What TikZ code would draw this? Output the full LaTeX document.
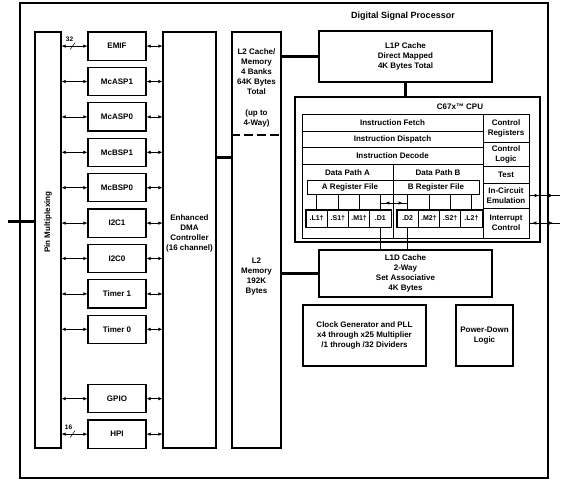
\documentclass[tikz,border=0pt]{standalone}
\usepackage{fontspec}
\setmainfont{Liberation Sans}
\usetikzlibrary{positioning,arrows.meta,calc}
\newcommand{\blkfont}{\bfseries\fontsize{8}{10}\selectfont}
\newcommand{\ttlfont}{\bfseries\fontsize{9}{11}\selectfont}
\newcommand{\unitfont}{\bfseries\fontsize{7}{9}\selectfont}
\newcommand{\smlfont}{\bfseries\fontsize{6.5}{8}\selectfont}
\tikzset{
  blk/.style  ={draw, line width=1.2pt, align=center, font=\blkfont, inner sep=1pt},
  per/.style  ={blk, minimum width=58pt, minimum height=28.2pt},
  cell/.style ={draw, line width=0.5pt, align=center, font=\blkfont, inner sep=0pt},
  unit/.style ={draw, line width=0.9pt, font=\unitfont, inner sep=0pt,
                minimum width=21.25pt, minimum height=17pt},
  txt/.style  ={align=center, font=\blkfont, inner sep=0pt},
  bus/.style  ={line width=3pt},
  wire/.style ={line width=0.5pt},
  sig/.style  ={{Latex[length=4pt,width=3.4pt]}-{Latex[length=4pt,width=3.4pt]}, line width=0.5pt},
}

\begin{document}
\begin{tikzpicture}[x=1pt,y=-1pt]
\useasboundingbox (0,0) rectangle (563,484);

% device outline
\node[draw, line width=1.4pt, minimum width=528pt, minimum height=475pt] (dsp) at (284,240.5) {};
\node[font=\ttlfont] (ttl) at (403,16) {Digital Signal Processor};

% left column
\node[blk, minimum width=26pt, minimum height=416pt] (pmx) at (48,240) {};
\node[txt, rotate=90] (pmxlbl) at (48,222) {Pin Multiplexing};

\node[per] (emif) at (117,46.1) {EMIF};
\node[per, below=6pt of emif] (asp1) {McASP1};
\node[per, below=6pt of asp1] (asp0) {McASP0};
\node[per, below=6pt of asp0] (bsp1) {McBSP1};
\node[per, below=6pt of bsp1] (bsp0) {McBSP0};
\node[per, below=6pt of bsp0] (iic1) {I2C1};
\node[per, below=6pt of iic1] (iic0) {I2C0};
\node[per, below=6pt of iic0] (tim1) {Timer 1};
\node[per, below=6pt of tim1] (tim0) {Timer 0};
\node[per, below=40pt of tim0] (gpio) {GPIO};
\node[per, below=6pt of gpio] (hpi) {HPI};

\node[blk, minimum width=53pt, minimum height=416pt] (dma) at (189.5,240) {};
\node[txt] (dmalbl) at (189.5,233) {Enhanced\\DMA\\Controller\\(16 channel)};

% L2
\node[blk, minimum width=49pt, minimum height=416pt] (l2) at (256.5,240) {};
\coordinate (l2cut) at (256.5,135);
\draw[line width=1.2pt, dash pattern=on 9pt off 4pt] (l2cut -| l2.west) -- (l2cut -| l2.east);
\node[txt] (l2top) at (256.5,88) {L2 Cache/\\Memory\\4 Banks\\64K Bytes\\Total\\[11pt](up to\\4-Way)};
\node[txt] (l2bot) at (256.5,277) {L2\\Memory\\192K\\Bytes};

% caches and CPU
\node[blk, minimum width=173pt, minimum height=51pt] (l1p) at (405.5,56.5) {L1P Cache\\Direct Mapped\\4K Bytes Total};
\node[draw, line width=1.6pt, minimum width=245pt, minimum height=145pt] (cpu) at (417.5,169.5) {};
\node[txt] (cpulbl) at (460,107) {C67x™ CPU};

\node[cell, minimum width=181pt, minimum height=17pt] (fetch) at (392.5,122.5) {Instruction Fetch};
\node[cell, minimum width=181pt, minimum height=16pt] (disp) at (392.5,139) {Instruction Dispatch};
\node[cell, minimum width=181pt, minimum height=17pt] (dec) at (392.5,155.5) {Instruction Decode};
\node[cell, minimum width=91pt, minimum height=74pt] (dpa) at (347.5,201) {};
\node[cell, minimum width=90pt, minimum height=74pt] (dpb) at (438,201) {};
\node[txt] (dpalbl) at (347.5,173) {Data Path A};
\node[txt] (dpblbl) at (438,173) {Data Path B};
\node[cell, minimum width=86pt, minimum height=14pt] (rfa) at (350,187) {A Register File};
\node[cell, minimum width=86pt, minimum height=14pt] (rfb) at (436,187) {B Register File};

\node[cell, minimum width=46pt, minimum height=28pt] (creg) at (506,128) {Control\\Registers};
\node[cell, minimum width=46pt, minimum height=24pt] (clog) at (506,154) {Control\\Logic};
\node[cell, minimum width=46pt, minimum height=17pt] (test) at (506,174.5) {Test};
\node[cell, minimum width=46pt, minimum height=25pt] (ice) at (506,195.5) {In-Circuit\\Emulation};
\node[cell, minimum width=46pt, minimum height=30pt] (intc) at (506,223) {Interrupt\\Control};

\node[unit] (l1) at (316.6,218.5) {.L1†};
\node[unit] (s1) at (337.9,218.5) {.S1†};
\node[unit] (m1) at (359.1,218.5) {.M1†};
\node[unit] (d1) at (380.4,218.5) {.D1};
\node[unit] (d2) at (407.6,218.5) {.D2};
\node[unit] (m2) at (428.9,218.5) {.M2†};
\node[unit] (s2) at (450.1,218.5) {.S2†};
\node[unit] (l2u) at (471.4,218.5) {.L2†};
\draw[line width=1.4pt] (l1.north west) rectangle (d1.south east);
\draw[line width=1.4pt] (d2.north west) rectangle (l2u.south east);

\node[blk, minimum width=173pt, minimum height=47pt] (l1d) at (405.5,273.5) {L1D Cache\\2-Way\\Set Associative\\4K Bytes};
\node[blk, minimum width=123pt, minimum height=61pt] (pll) at (364.5,335.5) {Clock Generator and PLL\\x4 through x25 Multiplier\\/1 through /32 Dividers};
\node[blk, minimum width=57pt, minimum height=61pt] (pwr) at (484.5,335.5) {Power-Down\\Logic};

% buses
\coordinate (ext) at (8,222);
\draw[bus] (ext) -- (ext -| pmx.west);
\draw[bus] ([yshift=82pt]dma.east) -- ([yshift=82pt]l2.west);
\draw[bus] (l2.east |- l1p.west) -- (l1p.west);
\draw[bus] (l1p.south) -- (cpu.north -| l1p.south);
\draw[bus] (l2.east |- l1d.west) -- (l1d.west);

% peripheral links
\draw[sig] (pmx.east |- emif) -- (emif.west); \draw[sig] (emif.east) -- (dma.west |- emif);
\draw[sig] (pmx.east |- asp1) -- (asp1.west); \draw[sig] (asp1.east) -- (dma.west |- asp1);
\draw[sig] (pmx.east |- asp0) -- (asp0.west); \draw[sig] (asp0.east) -- (dma.west |- asp0);
\draw[sig] (pmx.east |- bsp1) -- (bsp1.west); \draw[sig] (bsp1.east) -- (dma.west |- bsp1);
\draw[sig] (pmx.east |- bsp0) -- (bsp0.west); \draw[sig] (bsp0.east) -- (dma.west |- bsp0);
\draw[sig] (pmx.east |- iic1) -- (iic1.west); \draw[sig] (iic1.east) -- (dma.west |- iic1);
\draw[sig] (pmx.east |- iic0) -- (iic0.west); \draw[sig] (iic0.east) -- (dma.west |- iic0);
\draw[sig] (pmx.east |- tim1) -- (tim1.west); \draw[sig] (tim1.east) -- (dma.west |- tim1);
\draw[sig] (pmx.east |- tim0) -- (tim0.west); \draw[sig] (tim0.east) -- (dma.west |- tim0);
\draw[sig] (pmx.east |- gpio) -- (gpio.west); \draw[sig] (gpio.east) -- (dma.west |- gpio);
\draw[sig] (pmx.east |- hpi) -- (hpi.west);   \draw[sig] (hpi.east) -- (dma.west |- hpi);

% bus widths
\draw[wire] ($(pmx.east |- emif)+(8.5,3.5)$) -- ($(pmx.east |- emif)+(13.5,-3.5)$);
\node[font=\smlfont] (w32) at ($(pmx.east |- emif)+(8,-7)$) {32};
\draw[wire] ($(pmx.east |- hpi)+(8.5,3.5)$) -- ($(pmx.east |- hpi)+(13.5,-3.5)$);
\node[font=\smlfont] (w16) at ($(pmx.east |- hpi)+(7,-7)$) {16};

% inside the CPU
\draw[wire] (rfa.south -| l1) -- (l1); \draw[wire] (rfa.south -| s1) -- (s1);
\draw[wire] (rfa.south -| m1) -- (m1); \draw[wire] (rfa.south -| d1) -- (d1);
\draw[wire] (rfb.south -| d2) -- (d2); \draw[wire] (rfb.south -| m2) -- (m2);
\draw[wire] (rfb.south -| s2) -- (s2); \draw[wire] (rfb.south -| l2u) -- (l2u);
\coordinate (xd) at (394,203);
\draw[wire] (xd -| d1) -- (xd -| d2);
\draw[sig] ($(xd -| d1)+(5,0)$) -- ($(xd -| d2)+(-5,0)$);
\draw[wire] (d1) -- (d1 |- l1d.north);
\draw[wire] (d2) -- (d2 |- l1d.north);

% debug and interrupt pins
\coordinate (rgt) at (560,0);
\draw[wire] (ice.east) -- (ice.east -| rgt);
\draw[sig] ($(ice.east)+(3,0)$) -- ($(ice.east -| rgt)+(-7,0)$);
\draw[wire] (intc.east) -- (intc.east -| rgt);
\draw[sig] ($(intc.east)+(3,0)$) -- ($(intc.east -| rgt)+(-7,0)$);
\end{tikzpicture}
\end{document}
